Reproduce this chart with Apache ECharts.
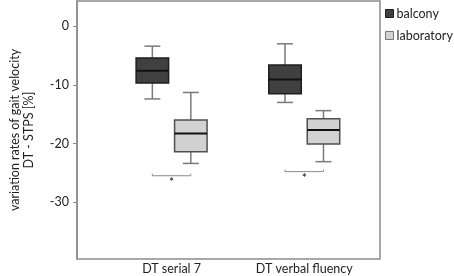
<!DOCTYPE html>
<html>
<head>
<meta charset="utf-8">
<script src="https://cdn.jsdelivr.net/npm/echarts@6/dist/echarts.min.js"></script>
<style>
  html, body { margin: 0; padding: 0; background: #fff; }
  #chart { width: 454px; height: 276px; }
</style>
</head>
<body>
<div id="chart"></div>
<script>
var categories = ['DT serial 7', 'DT verbal fluency'];
var groups = ['balcony', 'laboratory'];
// [min, Q1, median, Q3, max] per category
var balcony = [[-12.4, -9.7, -7.6, -5.4, -3.4], [-13.0, -11.5, -9.1, -6.6, -3.0]];
var laboratory = [[-23.4, -21.4, -18.3, -16.0, -11.3], [-23.1, -20.1, -17.7, -15.8, -14.4]];
var yTicks = [0, -10, -20, -30];
// significance bracket level and star level per category
var sigLine = [-25.5, -24.8];
var sigStar = [-26.6, -25.9];

var boxOffset = 0.145;
var boxWidth = 0.245;
var capWidth = 0.12;
var fills = ['#404040', '#d2d2d2'];
var borders = ['#1e1e1e', '#505050'];

function toRows(stats) {
  var rows = [];
  for (let i = 0; i < stats.length; i++) {
    rows.push([i].concat(stats[i]));
  }
  return rows;
}

function renderBox(params, api) {
  var s = params.seriesIndex;
  var x = api.value(0) + (s === 0 ? -boxOffset : boxOffset);
  var pMin = api.coord([x, api.value(1)]);
  var pQ1 = api.coord([x, api.value(2)]);
  var pMed = api.coord([x, api.value(3)]);
  var pQ3 = api.coord([x, api.value(4)]);
  var pMax = api.coord([x, api.value(5)]);
  var w = api.size([boxWidth, 0])[0];
  var cw = api.size([capWidth, 0])[0];
  var cx = pMed[0];
  var whisker = { stroke: '#7a7a7a', lineWidth: 1.5 };
  return {
    type: 'group',
    children: [
      { type: 'line', shape: { x1: cx, y1: pMax[1], x2: cx, y2: pQ3[1] }, style: whisker },
      { type: 'line', shape: { x1: cx, y1: pQ1[1], x2: cx, y2: pMin[1] }, style: whisker },
      { type: 'line', shape: { x1: cx - cw / 2, y1: pMax[1], x2: cx + cw / 2, y2: pMax[1] }, style: whisker },
      { type: 'line', shape: { x1: cx - cw / 2, y1: pMin[1], x2: cx + cw / 2, y2: pMin[1] }, style: whisker },
      { type: 'rect', shape: { x: cx - w / 2, y: pQ3[1], width: w, height: pQ1[1] - pQ3[1] },
        style: { fill: fills[s], stroke: borders[s], lineWidth: 1.5 } },
      { type: 'line', shape: { x1: cx - w / 2, y1: pMed[1], x2: cx + w / 2, y2: pMed[1] },
        style: { stroke: '#111', lineWidth: 2 } }
    ]
  };
}

function renderSig(params, api) {
  var i = api.value(0);
  var a = api.coord([i - boxOffset, api.value(1)]);
  var b = api.coord([i + boxOffset, api.value(1)]);
  var st = api.coord([i, api.value(2)]);
  return {
    type: 'group',
    children: [
      { type: 'polyline', shape: { points: [[a[0], a[1] - 2], [a[0], a[1]], [b[0], b[1]], [b[0], b[1] - 2]] },
        style: { stroke: '#8a8a8a', lineWidth: 1, fill: null } },
      { type: 'text', x: st[0], y: st[1],
        style: { text: '*', fill: '#333', font: 'bold 11px Lato', align: 'center', verticalAlign: 'middle' } }
    ]
  };
}

var sigRows = [];
for (let i = 0; i < categories.length; i++) {
  sigRows.push([i, sigLine[i], sigStar[i]]);
}

var chart = echarts.init(document.getElementById('chart'));

option = {
  animation: false,
  textStyle: { fontFamily: 'Lato, sans-serif' },
  grid: {
    left: 58, right: 74, top: 1, bottom: 17,
    show: true, borderColor: '#8c8c8c', borderWidth: 1.5
  },
  legend: {
    data: [
      { name: groups[0], itemStyle: { color: fills[0], borderColor: borders[0], borderWidth: 1 } },
      { name: groups[1], itemStyle: { color: fills[1], borderColor: '#777', borderWidth: 1 } }
    ],
    orient: 'vertical',
    left: 380, top: 2,
    padding: [5, 0, 5, 5],
    icon: 'rect',
    itemWidth: 8, itemHeight: 8, itemGap: 9,
    textStyle: { fontSize: 12.5, color: '#222', padding: [0, 0, 0, -2] }
  },
  xAxis: {
    type: 'value',
    min: -0.713, max: 1.571,
    splitLine: { show: false },
    axisLine: { show: false },
    axisTick: { show: false },
    axisLabel: {
      customValues: [0, 1],
      formatter: function (v) { return categories[Math.round(v)]; },
      fontSize: 12.5, color: '#222', margin: 3
    }
  },
  yAxis: {
    type: 'value',
    min: -39.7, max: 4.3,
    name: 'variation rates of gait velocity\nDT - STPS [%]',
    nameLocation: 'middle',
    nameRotate: 90,
    nameGap: 41,
    nameTextStyle: { fontSize: 12.5, color: '#222', lineHeight: 14 },
    splitLine: { show: false },
    axisLine: { show: true, onZero: false, lineStyle: { color: '#8c8c8c', width: 1.5 } },
    axisTick: { show: true, customValues: yTicks, length: 4, lineStyle: { color: '#8c8c8c' } },
    axisLabel: { customValues: yTicks, fontSize: 12.5, color: '#222', margin: 8 }
  },
  series: [
    { name: groups[0], type: 'custom', renderItem: renderBox, data: toRows(balcony),
      itemStyle: { color: fills[0] }, encode: { x: 0, y: [1, 2, 3, 4, 5] } },
    { name: groups[1], type: 'custom', renderItem: renderBox, data: toRows(laboratory),
      itemStyle: { color: fills[1] }, encode: { x: 0, y: [1, 2, 3, 4, 5] } },
    { name: 'sig', type: 'custom', renderItem: renderSig, data: sigRows,
      encode: { x: 0, y: [1, 2] }, silent: true }
  ]
};

chart.setOption(option);
</script>
</body>
</html>
